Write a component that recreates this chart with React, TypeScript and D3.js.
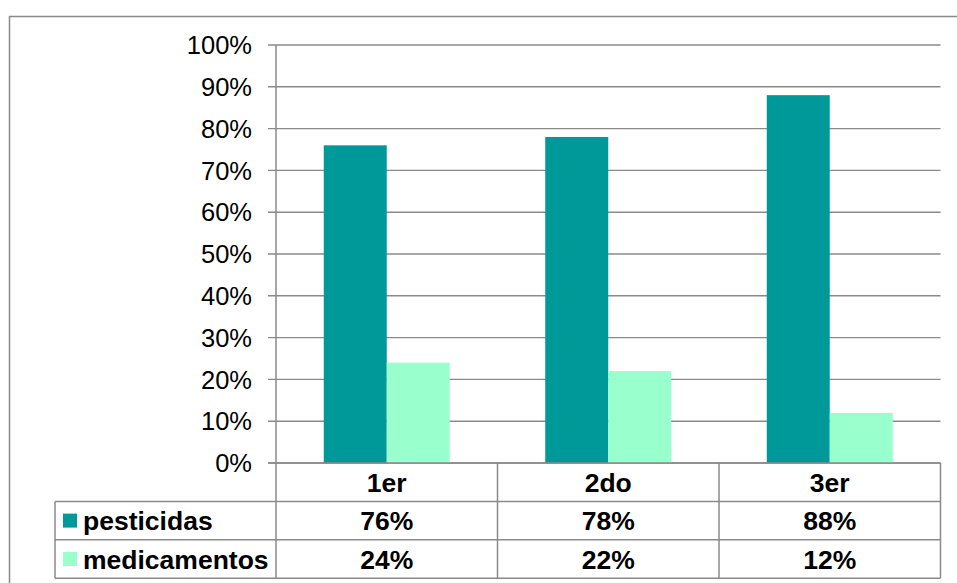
import React from "react";
import * as d3 from "d3";

const categories = ["1er", "2do", "3er"];
const seriesNames = ["pesticidas", "medicamentos"];
const pesticidas = [0.76, 0.78, 0.88];
const medicamentos = [0.24, 0.22, 0.12];
const yTicks = [0, 0.1, 0.2, 0.3, 0.4, 0.5, 0.6, 0.7, 0.8, 0.9, 1.0];
const colors = ["#009999", "#99FFCC"];

const W = 957;
const H = 583;
const FONT = "'Liberation Sans', Arial, sans-serif";

export default function App() {
  const left = 276;
  const right = 940.5;
  const top = 45;
  const bottom = 463;
  const rowH = 38.4;
  const legendLeft = 55;

  const y = d3.scaleLinear().domain([0, 1]).range([bottom, top]);
  const x = d3.scaleBand<string>().domain(categories).range([left, right]).paddingInner(0).paddingOuter(0);
  const inner = d3
    .scaleBand<string>()
    .domain(seriesNames)
    .range([0, x.bandwidth()])
    .paddingInner(0)
    .paddingOuter(0.758);
  const pct = d3.format(".0%");
  const values = [pesticidas, medicamentos];
  const gridColor = "#8a8a8a";

  return (
    <svg
      width={W}
      height={H}
      style={{ position: "absolute", left: 0, top: 0, background: "#fff" }}
      fontFamily={FONT}
    >
      <rect x={0} y={0} width={W} height={H} fill="#fff" />
      {/* outer frame */}
      <rect x={9.5} y={16.5} width={W + 20} height={H + 20} fill="none" stroke="#8a8a8a" strokeWidth={1.5} />

      {/* gridlines and ticks */}
      {yTicks.map((t) => (
        <g key={t}>
          <line x1={268} x2={right} y1={y(t)} y2={y(t)} stroke={gridColor} strokeWidth={1.4} />
          <text
            x={252}
            y={y(t)}
            dy="0.36em"
            textAnchor="end"
            fontSize={25.5}
            fill="#000"
          >
            {pct(t)}
          </text>
        </g>
      ))}

      {/* bars */}
      {categories.map((c, i) => (
        <g key={c} transform={`translate(${x(c)},0)`}>
          {seriesNames.map((s, j) => (
            <rect
              key={s}
              x={inner(s)}
              y={y(values[j][i])}
              width={inner.bandwidth()}
              height={y(0) - y(values[j][i])}
              fill={colors[j]}
            />
          ))}
        </g>
      ))}

      {/* axis line and table */}
      <line x1={left} x2={left} y1={top} y2={bottom + rowH * 3} stroke={gridColor} strokeWidth={1.5} />
      <line x1={268} x2={right} y1={bottom} y2={bottom} stroke={gridColor} strokeWidth={1.5} />
      {categories.map((c) => (
        <line
          key={c}
          x1={(x(c) as number) + x.bandwidth()}
          x2={(x(c) as number) + x.bandwidth()}
          y1={bottom}
          y2={bottom + rowH * 3}
          stroke={gridColor}
          strokeWidth={1.5}
        />
      ))}
      {[1, 2, 3].map((r) => (
        <line
          key={r}
          x1={legendLeft}
          x2={right}
          y1={bottom + rowH * r}
          y2={bottom + rowH * r}
          stroke={gridColor}
          strokeWidth={1.5}
        />
      ))}
      <line x1={legendLeft} x2={legendLeft} y1={bottom + rowH} y2={bottom + rowH * 3} stroke={gridColor} strokeWidth={1.5} />

      {/* category labels */}
      {categories.map((c) => (
        <text
          key={c}
          x={(x(c) as number) + x.bandwidth() / 2}
          y={bottom + rowH / 2}
          dy="0.36em"
          textAnchor="middle"
          fontSize={26.5}
          fontWeight="bold"
        >
          {c}
        </text>
      ))}

      {/* legend rows and values */}
      {seriesNames.map((s, j) => {
        const cy = bottom + rowH * (j + 1) + rowH / 2;
        return (
          <g key={s}>
            <rect x={63} y={cy - 7} width={14} height={14} fill={colors[j]} />
            <text x={83} y={cy} dy="0.36em" fontSize={26.5} fontWeight="bold">
              {s}
            </text>
            {categories.map((c, i) => (
              <text
                key={c}
                x={(x(c) as number) + x.bandwidth() / 2}
                y={cy}
                dy="0.36em"
                textAnchor="middle"
                fontSize={26.5}
                fontWeight="bold"
              >
                {pct(values[j][i])}
              </text>
            ))}
          </g>
        );
      })}
    </svg>
  );
}
